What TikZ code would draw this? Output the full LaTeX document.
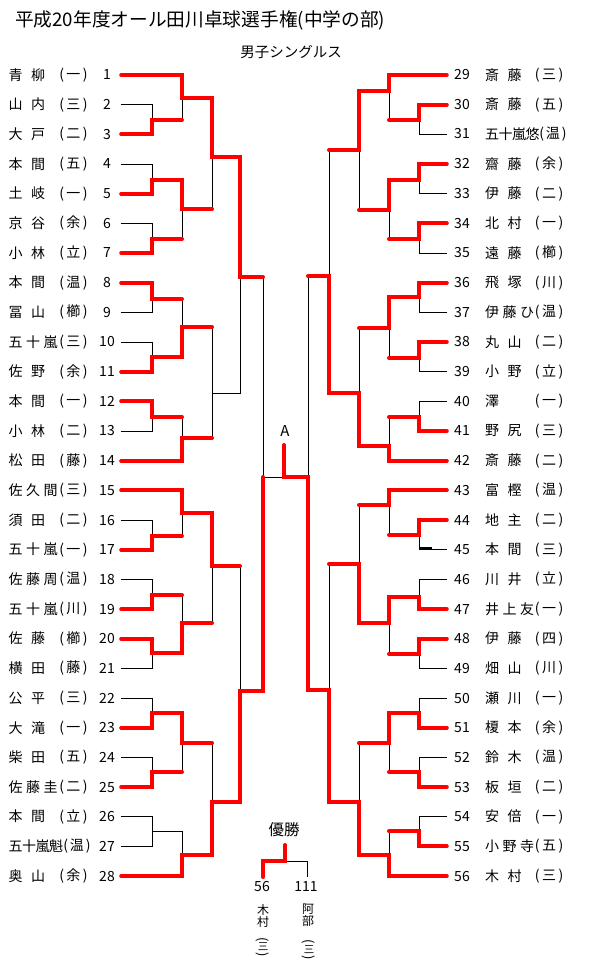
\documentclass[tikz,border=0pt]{standalone}
\usepackage{fontspec}
\setmainfont{Noto Sans CJK JP}

\newcommand{\ngap}{\hspace{8.5pt}}
\newcommand{\sgap}{\hspace{3.5pt}}
\newcommand{\tgap}{\hspace{-0.5pt}}

\tikzset{
    win/.style={red, line width=4pt, line cap=round},
    lose/.style={black, line width=0.8pt},
    entry/.style={inner sep=0pt, font=\fontsize{14}{16}\selectfont},
    numL/.style={entry, minimum width=28pt},
    numR/.style={entry, minimum width=30pt}
}

\begin{document}
\begin{tikzpicture}[x=1pt, y=-1pt]
    \useasboundingbox (0,0) rectangle (590,976);

    % Title
    \node[anchor=west, inner sep=0pt, font=\fontsize{18.7}{20}\selectfont] (title) at (15,20) {平成20年度オール田川卓球選手権(中学の部)};
    \node[inner sep=0pt, font=\fontsize{14.5}{16}\selectfont] (event) at (291,52) {男子シングルス};

    % Left block players
    \foreach \n/\nm/\af in {1/青\ngap 柳/一, 2/山\ngap 内/三, 3/大\ngap 戸/二, 4/本\ngap 間/五, 5/土\ngap 岐/一, 6/京\ngap 谷/余, 7/小\ngap 林/立, 8/本\ngap 間/温, 9/冨\ngap 山/櫛, 10/五\sgap 十\sgap 嵐/三, 11/佐\ngap 野/余, 12/本\ngap 間/一, 13/小\ngap 林/二, 14/松\ngap 田/藤, 15/佐\sgap 久\sgap 間/三, 16/須\ngap 田/二, 17/五\sgap 十\sgap 嵐/一, 18/佐\sgap 藤\sgap 周/温, 19/五\sgap 十\sgap 嵐/川, 20/佐\ngap 藤/櫛, 21/横\ngap 田/藤, 22/公\ngap 平/三, 23/大\ngap 滝/一, 24/柴\ngap 田/五, 25/佐\sgap 藤\sgap 圭/二, 26/本\ngap 間/立, 28/奥\ngap 山/余} {
        \node[entry, anchor=west] (nm\n) at (8.5, {75+29.667*(\n-1)}) {\nm};
        \node[entry] (af\n) at (73.5, {75+29.667*(\n-1)}) {(\hspace{2.5pt}\af\hspace{2.5pt})};
        \node[numL] (p\n) at (107, {75+29.667*(\n-1)}) {\n};
    }
    \node[entry, anchor=west] (nm27) at (8.5,846) {五\tgap 十\tgap 嵐\tgap 魁};
    \node[entry] (af27) at (77,846) {(\hspace{2pt}温\hspace{2pt})};
    \node[numL] (p27) at (107,846) {27};

    % Right block players
    \foreach \n/\nm/\af in {29/斎\ngap 藤/三, 30/斎\ngap 藤/五, 32/齋\ngap 藤/余, 33/伊\ngap 藤/二, 34/北\ngap 村/一, 35/遠\ngap 藤/櫛, 36/飛\ngap 塚/川, 37/伊\sgap 藤\sgap ひ/温, 38/丸\ngap 山/二, 39/小\ngap 野/立, 40/澤/一, 41/野\ngap 尻/三, 42/斎\ngap 藤/二, 43/富\ngap 樫/温, 44/地\ngap 主/二, 45/本\ngap 間/三, 46/川\ngap 井/立, 47/井\sgap 上\sgap 友/一, 48/伊\ngap 藤/四, 49/畑\ngap 山/川, 50/瀬\ngap 川/一, 51/榎\ngap 本/余, 52/鈴\ngap 木/温, 53/板\ngap 垣/二, 54/安\ngap 倍/一, 55/小\sgap 野\sgap 寺/五, 56/木\ngap 村/三} {
        \node[numR] (p\n) at (462, {75+29.667*(\n-29)}) {\n};
        \node[entry, anchor=west] (nm\n) at (485, {75+29.667*(\n-29)}) {\nm};
        \node[entry] (af\n) at (549, {75+29.667*(\n-29)}) {(\hspace{2.5pt}\af\hspace{2.5pt})};
    }
    \node[numR] (p31) at (462,134) {31};
    \node[entry, anchor=west] (nm31) at (485,134) {五\tgap 十\tgap 嵐\tgap 悠};
    \node[entry] (af31) at (553,134) {(\hspace{2pt}温\hspace{2pt})};

    % Left block, lost lines
    \draw[lose] (p2.east) -| (152,120);
    \draw[lose] (p4.east) -| (152,180);
    \draw[lose] (p6.east) -| (152,239);
    \draw[lose] (p9.east) -| (152,299);
    \draw[lose] (p10.east) -| (152,357);
    \draw[lose] (p13.east) -| (152,417);
    \draw[lose] (p16.east) -| (152,536);
    \draw[lose] (p18.east) -| (152,595);
    \draw[lose] (p21.east) -| (152,653);
    \draw[lose] (p22.east) -| (152,713);
    \draw[lose] (p24.east) -| (152,772);
    \draw[lose] (p26.east) -| (152,831);
    \draw[lose] (p27.east) -| (152,831) -| (182,855);
    \draw[lose] (182,120) -- (182,98);
    \draw[lose] (182,239) -- (182,209);
    \draw[lose] (212,209) -- (212,157);
    \draw[lose] (182,299) -- (182,327);
    \draw[lose] (182,417) -- (182,438);
    \draw[lose] (212,327) -- (212,438);
    \draw[lose] (212,393) -| (240,277);
    \draw[lose] (263,277) |- (284,477);
    \draw[lose] (182,536) -- (182,513);
    \draw[lose] (182,595) -- (182,623);
    \draw[lose] (212,623) -- (212,566);
    \draw[lose] (182,772) -- (182,743);
    \draw[lose] (212,743) -- (212,802);
    \draw[lose] (240,566) -- (240,691);

    % Right block, lost lines
    \draw[lose] (p31.west) -| (419,120);
    \draw[lose] (p33.west) -| (419,180);
    \draw[lose] (p35.west) -| (419,239);
    \draw[lose] (p37.west) -| (419,297);
    \draw[lose] (p39.west) -| (419,358);
    \draw[lose] (p40.west) -| (419,417);
    \draw[lose] (p45.west) -| (419,535);
    \draw[lose] (p46.west) -| (419,597);
    \draw[lose] (p49.west) -| (419,654);
    \draw[lose] (p50.west) -| (419,713);
    \draw[lose] (p52.west) -| (419,772);
    \draw[lose] (p54.west) -| (419,831);
    \draw[line width=1.6pt] (419,548) -- (432,548);
    \draw[lose] (389,120) -- (389,91);
    \draw[lose] (389,239) -- (389,210);
    \draw[lose] (359,210) -- (359,150);
    \draw[lose] (329,150) -- (329,276);
    \draw[lose] (389,358) -- (389,328);
    \draw[lose] (359,328) -- (359,393);
    \draw[lose] (389,417) -- (389,446);
    \draw[lose] (308,276) -- (308,477);
    \draw[lose] (389,535) -- (389,505);
    \draw[lose] (359,505) -- (359,564);
    \draw[lose] (389,654) -- (389,623);
    \draw[lose] (329,564) -- (329,690);
    \draw[lose] (389,772) -- (389,743);
    \draw[lose] (359,743) -- (359,802);
    \draw[lose] (389,831) -- (389,855);

    % Left block, winners
    \draw[win] (p1.east) -| (182,98) -| (212,157) -| (240,277) -- (263,277);
    \draw[win] (p3.east) -| (152,120) -- (182,120);
    \draw[win] (p5.east) -| (152,180) -| (182,209) -- (212,209);
    \draw[win] (p7.east) -| (152,239) -- (182,239);
    \draw[win] (p8.east) -| (152,299) -- (182,299);
    \draw[win] (p11.east) -| (152,357) -| (182,327) -- (212,327);
    \draw[win] (p12.east) -| (152,417) -- (182,417);
    \draw[win] (p14.east) -| (182,438) -- (212,438);
    \draw[win] (p15.east) -| (182,513) -| (212,566) -- (240,566);
    \draw[win] (p17.east) -| (152,536) -- (182,536);
    \draw[win] (p19.east) -| (152,595) -- (182,595);
    \draw[win] (p20.east) -| (152,653) -| (182,623) -- (212,623);
    \draw[win] (p23.east) -| (152,713) -| (182,743) -- (212,743);
    \draw[win] (p25.east) -| (152,772) -- (182,772);
    \draw[win] (p28.east) -| (182,855) -| (212,802) -| (240,691) -| (263,477);

    % Right block, winners
    \draw[win] (p29.west) -| (389,91) -| (359,150) -- (329,150);
    \draw[win] (p30.west) -| (419,120) -- (389,120);
    \draw[win] (p32.west) -| (419,180) -| (389,210) -- (359,210);
    \draw[win] (p34.west) -| (419,239) -- (389,239);
    \draw[win] (p36.west) -| (419,297) -| (389,328) -- (359,328);
    \draw[win] (p38.west) -| (419,358) -- (389,358);
    \draw[win] (p41.west) -| (419,417) -- (389,417);
    \draw[win] (p42.west) -| (389,446) -| (359,393) -| (329,276) -- (308,276);
    \draw[win] (p43.west) -| (389,505) -- (359,505);
    \draw[win] (p44.west) -| (419,535) -- (389,535);
    \draw[win] (p47.west) -| (419,597) -| (389,623) -| (359,564) -- (329,564);
    \draw[win] (p48.west) -| (419,654) -- (389,654);
    \draw[win] (p51.west) -| (419,713) -| (389,743) -- (359,743);
    \draw[win] (p53.west) -| (419,772) -- (389,772);
    \draw[win] (p55.west) -| (419,831) -- (389,831);
    \draw[win] (p56.west) -| (389,855) -| (359,802) -| (329,690) -| (308,477) -| (284,445);

    % Block winner
    \node[inner sep=0pt, font=\fontsize{15}{17}\selectfont] (blockA) at (285,431) {A};

    % Final
    \node[inner sep=0pt, font=\fontsize{15.5}{17}\selectfont] (final) at (284,830) {優勝};
    \draw[lose] (285,861) -| (307,877);
    \draw[win] (285,845) |- (263,861) -- (263,877);
    \node[entry] (f56) at (262,886) {56};
    \node[entry] (f111) at (306,886) {111};
    \node[inner sep=0pt, font=\fontsize{12}{12.5}\selectfont, align=center] (fn56) at (263,916) {木\\村};
    \node[inner sep=0pt, font=\fontsize{12}{12.5}\selectfont, align=center] (fn111) at (308,915) {阿\\部};
    \node[inner sep=0pt, font=\fontsize{13}{14}\selectfont, rotate=-90] (fo56) at (263,940) {(};
    \node[inner sep=0pt, font=\fontsize{10.5}{11}\selectfont] (fa56) at (263,947) {三};
    \node[inner sep=0pt, font=\fontsize{13}{14}\selectfont, rotate=-90] (fc56) at (263,955) {)};
    \node[inner sep=0pt, font=\fontsize{13}{14}\selectfont, rotate=-90] (fo111) at (309,942) {(};
    \node[inner sep=0pt, font=\fontsize{10.5}{11}\selectfont] (fa111) at (309,950) {三};
    \node[inner sep=0pt, font=\fontsize{13}{14}\selectfont, rotate=-90] (fc111) at (309,958) {)};
\end{tikzpicture}
\end{document}
